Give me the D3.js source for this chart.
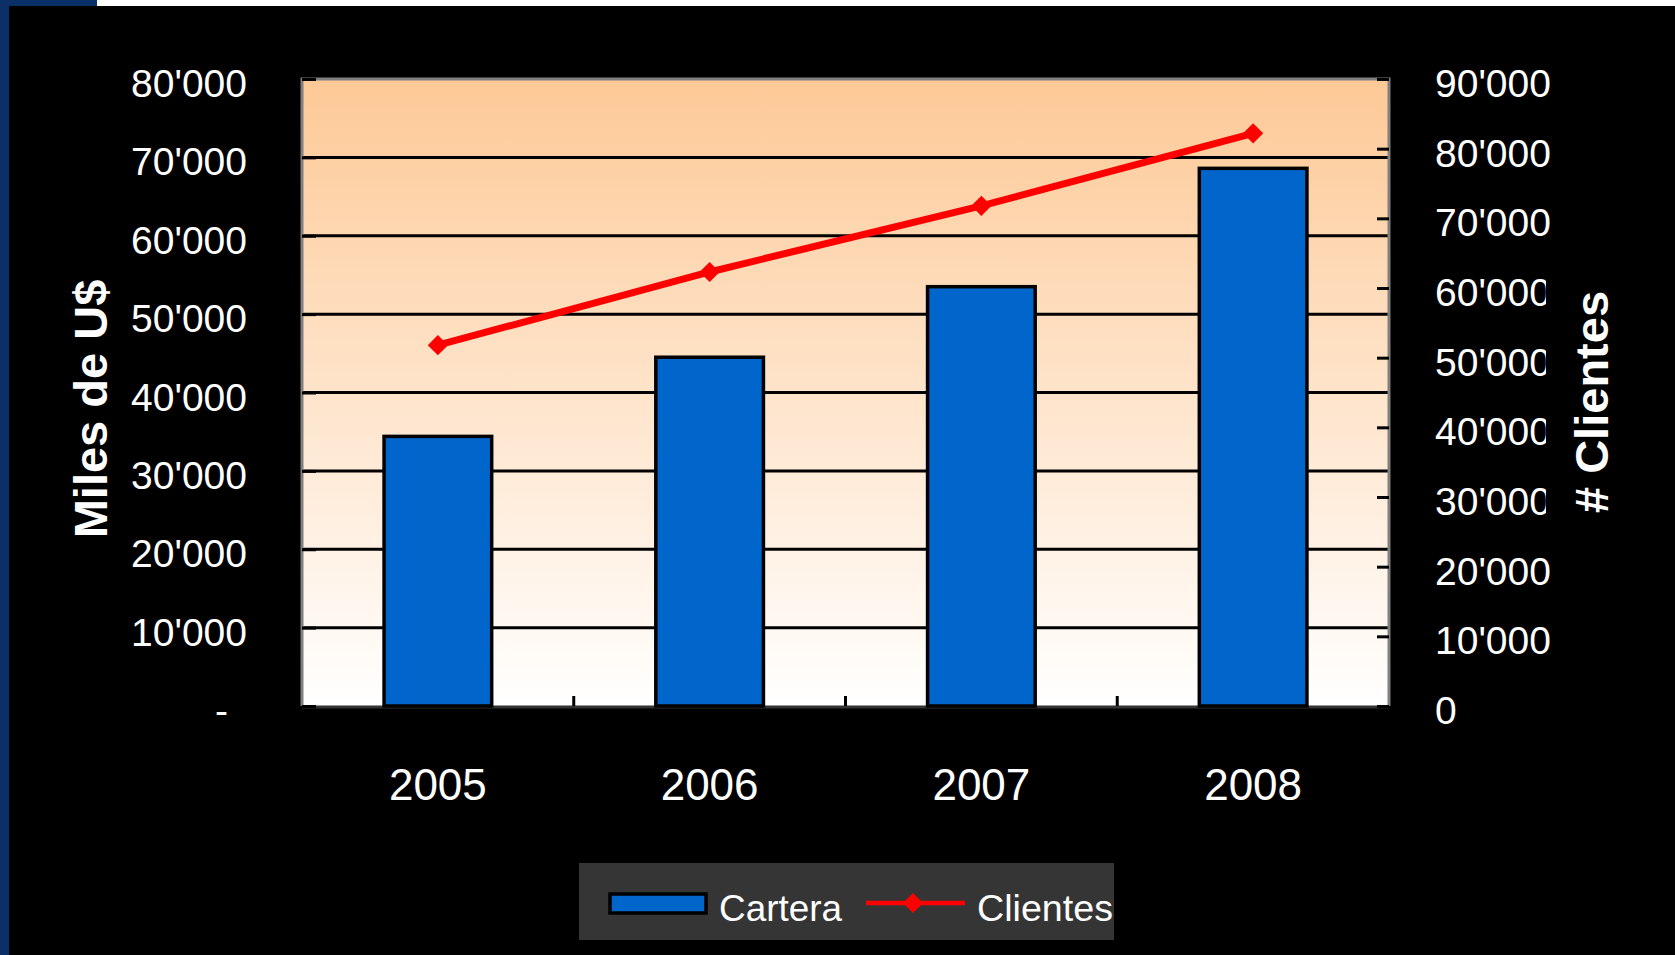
<!DOCTYPE html>
<html>
<head>
<meta charset="utf-8">
<script src="https://cdn.jsdelivr.net/npm/d3@7"></script>
<style>
  html, body { margin: 0; padding: 0; background: #000; overflow: hidden; }
  text { font-family: "Liberation Sans", Arial, sans-serif; fill: #fff; }
</style>
</head>
<body>
<script>
// chart data
const years    = ['2005', '2006', '2007', '2008'];
const cartera  = [34400, 44500, 53500, 68600];
const clientes = [51800, 62300, 71800, 82200];
const leftTicks  = [0, 10000, 20000, 30000, 40000, 50000, 60000, 70000, 80000];
const rightTicks = [0, 10000, 20000, 30000, 40000, 50000, 60000, 70000, 80000, 90000];

const width  = 1675;
const height = 955;
const plot = { left: 302, right: 1389, top: 79, bottom: 706 };

// number format with apostrophe thousands
const fmt = d3.formatLocale({ thousands: "'", grouping: [3], decimal: '.', currency: ['', ''] }).format(',');

const svg = d3.select('body')
  .append('svg')
    .attr('width',  width)
    .attr('height', height);

// backdrop: black slide with navy left strip and white top strip
svg.append('rect').attr('width', width).attr('height', height).attr('fill', '#000');
svg.append('rect').attr('x', 97).attr('width', width - 97).attr('height', 6).attr('fill', '#fff');
svg.append('rect').attr('width', 97).attr('height', 6).attr('fill', '#0b3068');
svg.append('rect').attr('width', 9).attr('height', height).attr('fill', '#0b3068');

const defs = svg.append('defs');
const grad = defs.append('linearGradient')
  .attr('id', 'bg').attr('x1', 0).attr('y1', 0).attr('x2', 0).attr('y2', 1);
grad.append('stop').attr('offset', '0%').attr('stop-color', '#fdc996');
grad.append('stop').attr('offset', '100%').attr('stop-color', '#ffffff');

// clip the right labels where the axis title box overlaps them
const clip = defs.append('clipPath').attr('id', 'rclip');
clip.append('rect').attr('x', 0).attr('y', 0).attr('width', width).attr('height', 250);
clip.append('rect').attr('x', 0).attr('y', 520).attr('width', width).attr('height', height - 520);
clip.append('rect').attr('x', 0).attr('y', 250).attr('width', 1546).attr('height', 270);

// scales
const x = d3.scaleBand()
  .domain(years)
  .range([plot.left, plot.right])
  .paddingInner(0.604)
  .paddingOuter(0.302);

const yL = d3.scaleLinear().domain([0, 80000]).range([plot.bottom, plot.top]);
const yR = d3.scaleLinear().domain([0, 90000]).range([plot.bottom, plot.top]);

// plot area
svg.append('rect')
  .attr('x', plot.left).attr('y', plot.top)
  .attr('width', plot.right - plot.left).attr('height', plot.bottom - plot.top)
  .attr('fill', 'url(#bg)');

// gridlines
svg.append('g')
  .selectAll('line')
  .data(leftTicks.filter((d) => d > 0 && d < 80000))
  .join('line')
    .attr('x1', plot.left).attr('x2', plot.right)
    .attr('y1', (d) => yL(d)).attr('y2', (d) => yL(d))
    .attr('stroke', '#000').attr('stroke-width', 3);

// plot frame
svg.append('path')
  .attr('d', `M${plot.left},${plot.bottom}V${plot.top}H${plot.right}V${plot.bottom}`)
  .attr('fill', 'none').attr('stroke', '#808080').attr('stroke-width', 3);
svg.append('line')
  .attr('x1', plot.left).attr('x2', plot.right)
  .attr('y1', plot.bottom + 1).attr('y2', plot.bottom + 1)
  .attr('stroke', '#333').attr('stroke-width', 3);

// left axis
const leftAxis = d3.axisLeft(yL)
  .tickValues(leftTicks)
  .tickSize(-14)
  .tickPadding(0)
  .tickFormat((d) => d === 0 ? '-' : fmt(d));

const gl = svg.append('g').attr('transform', `translate(${plot.left},0)`).call(leftAxis);
gl.select('.domain').remove();
gl.selectAll('.tick line').attr('stroke', '#000').attr('stroke-width', 3);
gl.selectAll('.tick text')
  .attr('x', -55).attr('dy', '0.45em')
  .attr('font-size', 39).attr('fill', '#fff')
  .filter((d) => d === 0).attr('x', -74);

// right axis
const rightAxis = d3.axisRight(yR)
  .tickValues(rightTicks)
  .tickSize(-12)
  .tickFormat(fmt);

const gr = svg.append('g').attr('transform', `translate(${plot.right},0)`).call(rightAxis);
gr.select('.domain').remove();
gr.selectAll('.tick line').attr('stroke', '#000').attr('stroke-width', 3);
gr.selectAll('.tick text')
  .attr('x', 46).attr('dy', '0.45em')
  .attr('font-size', 39).attr('fill', '#fff')
  .attr('text-anchor', 'start');
gr.attr('clip-path', 'url(#rclip)');
// clip path units are in user space of the group, shift it back
clip.attr('transform', `translate(${-plot.right},0)`);

// bottom axis (category boundaries)
const bounds = years.slice(1).map((y) => x(y) - x.step() * x.paddingInner() / 2);
svg.append('g')
  .selectAll('line')
  .data(bounds)
  .join('line')
    .attr('x1', (d) => d).attr('x2', (d) => d)
    .attr('y1', plot.bottom).attr('y2', plot.bottom - 10)
    .attr('stroke', '#000').attr('stroke-width', 3);

svg.append('g')
  .selectAll('text')
  .data(years)
  .join('text')
    .attr('x', (d) => x(d) + x.bandwidth() / 2)
    .attr('y', 800)
    .attr('text-anchor', 'middle')
    .attr('font-size', 44)
    .text((d) => d);

// bars
svg.append('g')
  .selectAll('rect')
  .data(cartera)
  .join('rect')
    .attr('x', (d, i) => x(years[i]))
    .attr('y', (d) => yL(d))
    .attr('width', x.bandwidth())
    .attr('height', (d) => yL(0) - yL(d))
    .attr('fill', '#0066cc')
    .attr('stroke', '#000')
    .attr('stroke-width', 3.5);

// line
const line = d3.line()
  .x((d, i) => x(years[i]) + x.bandwidth() / 2)
  .y((d) => yR(d));

svg.append('path')
  .datum(clientes)
  .attr('d', line)
  .attr('fill', 'none')
  .attr('stroke', '#ff0000')
  .attr('stroke-width', 7);

const diamond = d3.symbol().type(d3.symbolDiamond2).size(260);
svg.append('g')
  .selectAll('path')
  .data(clientes)
  .join('path')
    .attr('transform', (d, i) => `translate(${x(years[i]) + x.bandwidth() / 2},${yR(d)})`)
    .attr('d', diamond)
    .attr('fill', '#ff0000');

// axis titles
svg.append('text')
  .attr('transform', 'translate(107,409) rotate(-90)')
  .attr('text-anchor', 'middle')
  .attr('font-size', 47)
  .attr('font-weight', 'bold')
  .text('Miles de U$');

svg.append('text')
  .attr('transform', 'translate(1608,402) rotate(-90)')
  .attr('text-anchor', 'middle')
  .attr('font-size', 47)
  .attr('font-weight', 'bold')
  .text('# Clientes');

// legend
const legend = svg.append('g');
legend.append('rect')
  .attr('x', 579).attr('y', 863).attr('width', 535).attr('height', 77)
  .attr('fill', '#353535');
legend.append('rect')
  .attr('x', 610).attr('y', 894).attr('width', 96).attr('height', 19)
  .attr('fill', '#0066cc').attr('stroke', '#000').attr('stroke-width', 3.5);
legend.append('text')
  .attr('x', 719).attr('y', 921)
  .attr('font-size', 37)
  .attr('textLength', 123).attr('lengthAdjust', 'spacingAndGlyphs')
  .text('Cartera');
legend.append('line')
  .attr('x1', 866).attr('x2', 965).attr('y1', 903).attr('y2', 903)
  .attr('stroke', '#ff0000').attr('stroke-width', 4.5);
legend.append('path')
  .attr('transform', 'translate(913,903)')
  .attr('d', diamond)
  .attr('fill', '#ff0000');
legend.append('text')
  .attr('x', 977).attr('y', 921)
  .attr('font-size', 37)
  .attr('textLength', 136).attr('lengthAdjust', 'spacingAndGlyphs')
  .text('Clientes');
</script>
</body>
</html>
